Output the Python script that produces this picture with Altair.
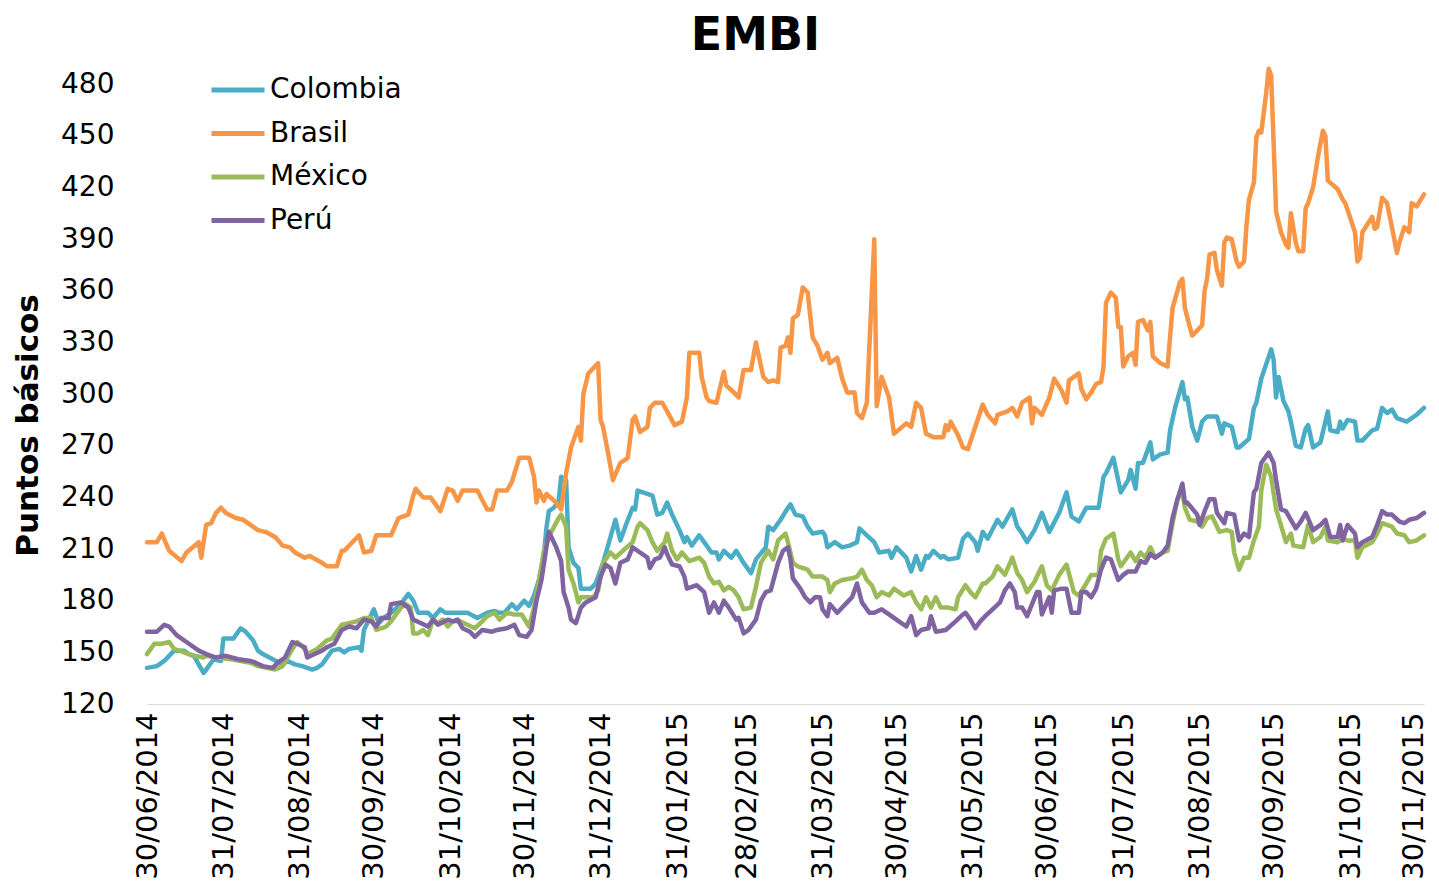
import altair as alt
import pandas as pd
from datetime import date, timedelta

START = date(2014, 6, 30)

series_names = ["Colombia", "Brasil", "México", "Perú"]
series_colors = ["#4BACC6", "#F79646", "#9BBB59", "#8064A2"]

colombia_days = [0, 4, 7, 11, 15, 17, 19, 23, 24, 27, 30, 31, 35, 38, 40, 43, 45, 47, 51, 55, 57, 60, 63, 67, 69, 71, 75, 78, 80, 82, 86, 87, 88, 92, 94, 96, 99, 103, 106, 108, 110, 112, 114, 116, 119, 121, 124, 127, 130, 134, 138, 141, 143, 145, 148, 150, 153, 155, 157, 159, 161, 162, 163, 165, 167, 168, 170, 171, 173, 175, 176, 180, 182, 185, 188, 190, 192, 194, 197, 198, 199, 203, 205, 207, 209, 211, 213, 216, 218, 219, 221, 224, 226, 229, 231, 232, 234, 237, 239, 242, 245, 247, 251, 252, 254, 257, 260, 261, 263, 266, 268, 270, 274, 275, 276, 279, 282, 285, 288, 289, 292, 295, 297, 301, 302, 304, 308, 310, 312, 314, 316, 317, 319, 322, 323, 325, 329, 331, 333, 336, 337, 339, 341, 345, 347, 351, 353, 355, 357, 360, 363, 366, 370, 373, 375, 378, 381, 386, 388, 389, 392, 395, 398, 399, 401, 402, 404, 407, 408, 411, 414, 415, 417, 420, 421, 422, 424, 426, 428, 430, 434, 436, 437, 440, 442, 443, 447, 449, 450, 452, 456, 457, 458, 459, 461, 463, 464, 466, 468, 470, 471, 473, 476, 479, 480, 483, 484, 485, 487, 490, 491, 493, 497, 499, 501, 503, 505, 507, 511, 513, 515, 518]
colombia_vals = [141, 142, 145, 151, 151, 149, 148, 138, 140, 146, 145, 158, 158, 164, 162, 157, 151, 149, 146, 143, 145, 143, 142, 140, 141, 143, 151, 152, 150, 152, 153, 151, 163, 175, 167, 170, 173, 178, 184, 180, 173, 173, 173, 170, 175, 173, 173, 173, 173, 170, 173, 174, 173, 173, 178, 175, 180, 177, 183, 192, 207, 222, 232, 234, 238, 252, 250, 211, 202, 199, 187, 187, 190, 202, 217, 227, 215, 223, 234, 233, 244, 242, 241, 230, 231, 237, 230, 221, 214, 217, 212, 218, 214, 208, 208, 204, 209, 205, 209, 202, 196, 204, 211, 223, 221, 227, 234, 236, 230, 229, 223, 219, 220, 218, 211, 214, 211, 212, 214, 222, 218, 214, 208, 209, 205, 211, 205, 197, 206, 198, 206, 205, 209, 205, 206, 204, 205, 216, 219, 214, 209, 220, 216, 227, 223, 233, 223, 219, 214, 221, 231, 220, 231, 243, 229, 226, 234, 234, 252, 254, 263, 243, 250, 256, 245, 260, 260, 272, 262, 265, 266, 279, 292, 307, 297, 298, 281, 273, 284, 287, 287, 277, 283, 281, 269, 269, 274, 292, 295, 309, 326, 320, 298, 310, 296, 290, 284, 270, 269, 280, 282, 269, 272, 290, 279, 278, 284, 280, 285, 284, 273, 273, 279, 280, 292, 289, 291, 286, 284, 286, 288, 292]

brasil_days = [0, 4, 6, 9, 14, 16, 21, 22, 24, 26, 28, 30, 32, 36, 39, 42, 45, 48, 52, 55, 58, 60, 64, 66, 71, 73, 77, 79, 80, 84, 86, 88, 91, 93, 99, 102, 106, 108, 109, 112, 115, 119, 122, 124, 126, 128, 134, 138, 140, 142, 146, 148, 151, 155, 157, 158, 159, 161, 162, 166, 168, 170, 172, 175, 176, 177, 179, 183, 184, 185, 187, 189, 192, 195, 197, 198, 200, 203, 204, 206, 209, 211, 214, 217, 219, 220, 224, 225, 227, 228, 231, 234, 235, 238, 240, 242, 245, 247, 250, 252, 254, 256, 257, 259, 260, 261, 262, 264, 266, 268, 270, 272, 274, 276, 277, 280, 282, 284, 287, 288, 290, 292, 295, 296, 298, 301, 303, 308, 310, 312, 314, 316, 319, 323, 324, 325, 326, 329, 331, 333, 336, 339, 341, 344, 345, 349, 351, 353, 355, 358, 359, 360, 363, 366, 368, 371, 373, 374, 378, 379, 381, 383, 385, 387, 388, 389, 391, 393, 394, 395, 396, 398, 400, 401, 402, 404, 406, 407, 408, 411, 414, 416, 419, 420, 421, 423, 424, 428, 429, 430, 431, 433, 434, 436, 437, 438, 440, 442, 443, 445, 446, 447, 449, 450, 451, 452, 454, 455, 456, 457, 458, 460, 462, 463, 464, 466, 467, 469, 470, 471, 473, 475, 477, 478, 479, 483, 485, 486, 487, 490, 491, 492, 493, 497, 498, 499, 501, 503, 505, 507, 508, 510, 512, 513, 515, 518]
brasil_vals = [214, 214, 219, 209, 203, 208, 214, 205, 224, 225, 231, 234, 231, 228, 227, 224, 221, 220, 217, 212, 211, 208, 205, 206, 202, 200, 200, 209, 209, 215, 218, 208, 209, 218, 218, 228, 230, 241, 245, 240, 240, 232, 245, 244, 238, 244, 244, 233, 233, 244, 244, 249, 263, 263, 252, 237, 244, 238, 242, 237, 233, 254, 269, 281, 273, 300, 312, 318, 285, 281, 266, 250, 260, 263, 285, 287, 278, 281, 292, 295, 295, 290, 282, 284, 298, 324, 324, 310, 298, 296, 295, 313, 305, 301, 298, 314, 314, 330, 310, 307, 308, 307, 327, 328, 333, 324, 344, 346, 362, 359, 333, 328, 320, 324, 318, 321, 309, 301, 301, 289, 286, 295, 390, 293, 310, 298, 277, 283, 281, 295, 292, 277, 275, 275, 282, 279, 284, 276, 269, 268, 281, 294, 288, 283, 288, 290, 292, 287, 295, 298, 283, 292, 288, 298, 309, 302, 295, 308, 312, 303, 297, 301, 306, 307, 316, 353, 359, 356, 339, 339, 316, 322, 324, 317, 342, 343, 337, 342, 322, 318, 316, 350, 365, 367, 350, 339, 334, 340, 360, 367, 381, 382, 372, 363, 388, 391, 390, 377, 374, 377, 398, 413, 423, 449, 453, 452, 475, 489, 485, 446, 406, 394, 387, 385, 405, 388, 383, 383, 408, 411, 420, 438, 453, 450, 424, 419, 413, 411, 407, 394, 377, 379, 394, 403, 396, 397, 414, 411, 397, 382, 388, 397, 394, 411, 409, 416]

mexico_days = [0, 3, 6, 9, 11, 15, 19, 23, 24, 28, 34, 38, 42, 45, 52, 55, 59, 61, 64, 65, 69, 73, 75, 79, 82, 85, 88, 91, 93, 97, 99, 103, 105, 107, 108, 110, 112, 114, 116, 118, 120, 122, 124, 127, 130, 133, 136, 138, 141, 143, 146, 149, 152, 155, 157, 159, 161, 164, 167, 168, 170, 171, 173, 175, 176, 178, 181, 183, 185, 188, 190, 193, 197, 199, 200, 203, 205, 207, 210, 211, 213, 215, 217, 220, 224, 226, 228, 230, 232, 234, 236, 238, 240, 242, 245, 247, 249, 252, 254, 256, 259, 260, 262, 264, 268, 270, 274, 276, 277, 279, 282, 286, 288, 290, 292, 294, 296, 298, 301, 303, 307, 310, 312, 314, 316, 318, 320, 322, 325, 328, 329, 332, 334, 336, 339, 340, 343, 345, 348, 351, 353, 355, 357, 360, 363, 365, 367, 370, 373, 376, 378, 381, 383, 386, 387, 389, 392, 394, 395, 399, 401, 403, 405, 407, 409, 412, 414, 416, 418, 420, 421, 423, 426, 428, 430, 432, 435, 438, 440, 441, 443, 445, 447, 449, 451, 452, 454, 456, 458, 461, 462, 464, 465, 469, 471, 473, 476, 478, 479, 483, 485, 487, 490, 491, 493, 497, 499, 501, 505, 507, 510, 512, 515, 518]
mexico_vals = [149, 155, 155, 156, 152, 150, 148, 147, 148, 147, 146, 145, 144, 142, 140, 142, 152, 156, 152, 149, 152, 157, 158, 166, 167, 168, 170, 170, 163, 165, 168, 176, 178, 176, 161, 161, 163, 160, 169, 167, 169, 165, 168, 168, 166, 164, 168, 171, 173, 169, 173, 172, 172, 165, 176, 192, 209, 220, 228, 230, 223, 198, 190, 179, 182, 182, 182, 186, 202, 208, 205, 209, 214, 223, 225, 221, 214, 209, 214, 219, 209, 204, 208, 203, 205, 202, 194, 190, 191, 186, 188, 186, 182, 175, 176, 188, 202, 209, 204, 215, 219, 214, 202, 200, 198, 194, 194, 192, 185, 190, 192, 193, 194, 198, 192, 189, 182, 185, 183, 187, 183, 185, 179, 175, 182, 176, 182, 176, 176, 175, 182, 189, 185, 182, 190, 190, 194, 200, 195, 205, 196, 192, 185, 191, 200, 189, 186, 195, 201, 185, 183, 190, 195, 195, 209, 216, 219, 204, 200, 208, 203, 208, 205, 211, 205, 208, 209, 225, 239, 243, 234, 227, 226, 223, 228, 229, 220, 221, 220, 208, 198, 205, 205, 215, 223, 244, 259, 252, 233, 219, 214, 219, 212, 211, 224, 214, 217, 223, 215, 214, 216, 215, 215, 205, 211, 214, 219, 225, 223, 219, 218, 214, 215, 218]

peru_days = [0, 4, 7, 9, 12, 16, 21, 24, 28, 32, 37, 42, 44, 47, 51, 53, 56, 59, 61, 64, 65, 68, 71, 73, 76, 79, 82, 85, 88, 91, 93, 95, 98, 99, 103, 106, 108, 111, 114, 116, 118, 122, 124, 126, 128, 131, 133, 136, 140, 142, 146, 149, 151, 154, 156, 158, 160, 162, 163, 166, 168, 169, 171, 172, 174, 176, 178, 182, 184, 186, 188, 190, 192, 195, 197, 200, 203, 204, 206, 208, 210, 211, 213, 216, 218, 219, 223, 226, 228, 230, 232, 234, 236, 239, 240, 242, 244, 247, 249, 251, 253, 256, 258, 260, 261, 262, 265, 267, 269, 271, 273, 274, 276, 277, 280, 284, 286, 288, 290, 293, 295, 298, 302, 305, 308, 310, 312, 314, 317, 318, 320, 324, 328, 331, 332, 334, 336, 338, 340, 343, 346, 348, 350, 352, 353, 355, 357, 359, 361, 362, 363, 366, 367, 368, 371, 373, 375, 378, 379, 381, 383, 385, 387, 389, 391, 394, 396, 398, 401, 403, 405, 407, 409, 412, 414, 416, 418, 420, 421, 422, 426, 427, 429, 431, 433, 434, 437, 438, 441, 443, 445, 447, 449, 450, 452, 455, 457, 458, 460, 462, 464, 466, 468, 470, 473, 476, 478, 480, 483, 484, 485, 487, 490, 491, 493, 497, 499, 501, 503, 505, 508, 510, 512, 515, 518]
peru_vals = [162, 162, 166, 165, 160, 156, 151, 149, 147, 148, 146, 145, 144, 142, 141, 144, 147, 156, 155, 153, 147, 149, 151, 153, 155, 163, 165, 164, 169, 168, 165, 170, 170, 178, 179, 176, 169, 167, 165, 169, 166, 169, 168, 169, 164, 162, 159, 163, 162, 163, 164, 166, 160, 159, 163, 180, 192, 211, 220, 211, 203, 185, 176, 169, 167, 176, 179, 182, 194, 201, 199, 190, 202, 204, 211, 208, 205, 199, 204, 205, 211, 207, 201, 200, 194, 187, 189, 185, 173, 179, 173, 180, 176, 169, 170, 161, 163, 169, 180, 185, 186, 202, 209, 211, 204, 193, 187, 182, 179, 182, 182, 175, 171, 178, 173, 179, 182, 190, 179, 173, 173, 175, 171, 168, 165, 171, 160, 163, 164, 171, 162, 163, 168, 172, 173, 169, 164, 168, 171, 175, 179, 186, 190, 185, 176, 176, 171, 178, 185, 185, 172, 182, 173, 186, 187, 187, 173, 173, 185, 185, 182, 187, 198, 205, 204, 192, 195, 197, 197, 203, 202, 207, 205, 208, 212, 228, 239, 248, 237, 237, 230, 224, 232, 239, 239, 231, 225, 231, 230, 215, 219, 217, 243, 245, 260, 266, 260, 250, 233, 232, 227, 222, 226, 231, 221, 224, 227, 217, 217, 224, 215, 224, 219, 211, 214, 217, 224, 232, 230, 230, 226, 225, 227, 228, 231]

y_ticks = [120, 150, 180, 210, 240, 270, 300, 330, 360, 390, 420, 450, 480]
x_tick_labels = ["30/06/2014", "31/07/2014", "31/08/2014", "30/09/2014", "31/10/2014",
                 "30/11/2014", "31/12/2014", "31/01/2015", "28/02/2015", "31/03/2015",
                 "30/04/2015", "31/05/2015", "30/06/2015", "31/07/2015", "31/08/2015",
                 "30/09/2015", "31/10/2015", "30/11/2015"]


def to_dt(label):
    d, m, y = [int(p) for p in label.split("/")]
    return alt.DateTime(year=y, month=m, date=d)


rows = []
for name, days, vals in [("Colombia", colombia_days, colombia_vals),
                         ("Brasil", brasil_days, brasil_vals),
                         ("México", mexico_days, mexico_vals),
                         ("Perú", peru_days, peru_vals)]:
    for d, v in zip(days, vals):
        rows.append({"fecha": (START + timedelta(days=d)).strftime("%Y/%m/%d"),
                     "pais": name, "valor": v})
df = pd.DataFrame(rows)

FONT = "DejaVu Sans"

chart = alt.Chart(df).mark_line(strokeWidth=4.5, strokeJoin="round", strokeCap="round").encode(
    x=alt.X("fecha:T",
            scale=alt.Scale(domain=[to_dt(x_tick_labels[0]), to_dt(x_tick_labels[-1])]),
            axis=alt.Axis(values=[to_dt(l) for l in x_tick_labels], format="%d/%m/%Y",
                          labelAngle=270, labelAlign="right", labelBaseline="middle",
                          labelFontSize=29, labelPadding=8, labelFlush=False,
                          labelOffset={"condition": {"test": "datum.value > datetime(2015, 9, 31)",
                                                     "value": -11},
                                       "value": 0},
                          labelOverlap=False, grid=False, ticks=False,
                          domain=True, domainColor="#d9d9d9", domainWidth=1,
                          title=None, labelFont=FONT, labelColor="black")),
    y=alt.Y("valor:Q",
            scale=alt.Scale(domain=[120, 490], nice=False, zero=False),
            axis=alt.Axis(values=y_ticks, grid=False, ticks=False, domain=False,
                          labelFontSize=28, labelPadding=33, labelFont=FONT,
                          labelColor="black", title="Puntos básicos",
                          titleFontSize=31, titleFontWeight="bold", titleFont=FONT,
                          titleColor="black", titlePadding=16, titleY=358)),
    color=alt.Color("pais:N",
                    scale=alt.Scale(domain=series_names, range=series_colors),
                    sort=series_names,
                    legend=alt.Legend(title=None, orient="none", legendX=75, legendY=7,
                                      symbolType="M-2,0H2", symbolSize=702,
                                      symbolStrokeWidth=5, labelOffset=16,
                                      labelFontSize=28, labelFont=FONT,
                                      labelColor="black", rowPadding=13.5)),
).properties(
    width=1277,
    height=637,
    autosize=alt.AutoSizeParams(type="none"),
    padding={"left": 139, "top": 59, "right": 7, "bottom": 178},
    title=alt.TitleParams("EMBI", fontSize=46, fontWeight="bold", font=FONT,
                          anchor="middle", dx=-30, offset=6, color="black"),
).configure_view(stroke=None)

chart.save("out.html", embed_options={"renderer": "svg", "actions": False})
